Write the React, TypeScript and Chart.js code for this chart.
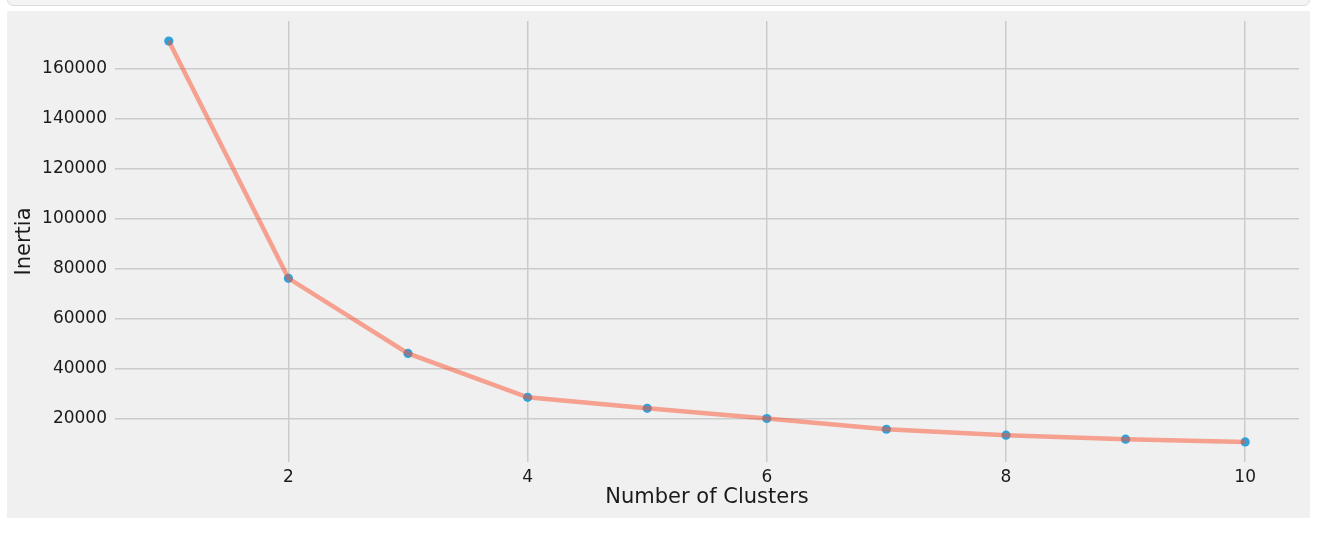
import React, { useEffect, useRef } from "react";
import { Chart, registerables } from "chart.js";

Chart.register(...registerables);

const clusters: number[] = [1, 2, 3, 4, 5, 6, 7, 8, 9, 10];
const inertia: number[] = [171200, 76100, 46000, 28400, 24000, 19900, 15600, 13200, 11600, 10500];
const xTicks: number[] = [2, 4, 6, 8, 10];
const yTicks: number[] = [20000, 40000, 60000, 80000, 100000, 120000, 140000, 160000];
const xLabel = "Number of Clusters";
const yLabel = "Inertia";

const FONT = "'DejaVu Sans', sans-serif";
const TEXT = "#1a1a1a";
const GRID = "#cbcbcb";

export default function App() {
  const ref = useRef<HTMLCanvasElement | null>(null);

  useEffect(() => {
    if (!ref.current) return;
    const pts = clusters.map((c, i) => ({ x: c, y: inertia[i] }));
    const chart = new Chart(ref.current, {
      type: "line",
      data: {
        datasets: [
          {
            data: pts,
            borderColor: "rgba(252,79,48,0.5)",
            borderWidth: 4.5,
            pointRadius: 0,
            pointHoverRadius: 0,
            fill: false,
            tension: 0,
            order: 0,
          },
          {
            data: pts,
            showLine: false,
            borderColor: "#30a2da",
            backgroundColor: "#30a2da",
            pointRadius: 4.6,
            pointBorderWidth: 0,
            order: 1,
          },
        ],
      },
      options: {
        animation: false,
        responsive: false,
        devicePixelRatio: 1,
        events: [],
        layout: { padding: { top: 10, right: 11, left: 0, bottom: 0 } },
        plugins: { legend: { display: false }, tooltip: { enabled: false } },
        scales: {
          x: {
            type: "linear",
            min: 0.55,
            max: 10.45,
            afterBuildTicks: (s: any) => {
              s.ticks = xTicks.map((v) => ({ value: v }));
            },
            afterFit: (s: any) => {
              s.height = 56;
              s.paddingLeft = 0;
              s.paddingRight = 0;
            },
            grid: { color: GRID, lineWidth: 1.5, drawTicks: false },
            border: { display: false },
            ticks: {
              color: TEXT,
              font: { family: FONT, size: 17 },
              padding: 5,
              callback: (v: any) => String(v),
            },
            title: {
              display: true,
              text: xLabel,
              color: TEXT,
              font: { family: FONT, size: 21 },
              padding: { top: 0, bottom: 8 },
            },
          },
          y: {
            type: "linear",
            min: 2465,
            max: 179235,
            afterBuildTicks: (s: any) => {
              s.ticks = yTicks.map((v) => ({ value: v }));
            },
            afterFit: (s: any) => {
              s.width = 108;
              s.paddingTop = 0;
              s.paddingBottom = 0;
            },
            grid: { color: GRID, lineWidth: 1.5, drawTicks: false },
            border: { display: false },
            ticks: {
              color: TEXT,
              font: { family: FONT, size: 17 },
              padding: 8,
              callback: (v: any) => String(v),
            },
            title: {
              display: true,
              text: yLabel,
              color: TEXT,
              font: { family: FONT, size: 21 },
              padding: { top: 5, bottom: 0 },
            },
          },
        },
      },
    });
    return () => chart.destroy();
  }, []);

  return (
    <div style={{ position: "fixed", left: 0, top: 0, width: 1324, height: 548, background: "#ffffff", overflow: "hidden" }}>
      <div
        style={{
          position: "absolute",
          left: 7,
          top: -12,
          width: 1301,
          height: 16,
          background: "#f4f4f4",
          border: "1px solid #dcdcdc",
          borderRadius: 6,
        }}
      />
      <div style={{ position: "absolute", left: 7, top: 11, width: 1303, height: 507, background: "#f0f0f0" }}>
        <canvas ref={ref} width={1303} height={507} style={{ display: "block", width: 1303, height: 507 }} />
      </div>
    </div>
  );
}
